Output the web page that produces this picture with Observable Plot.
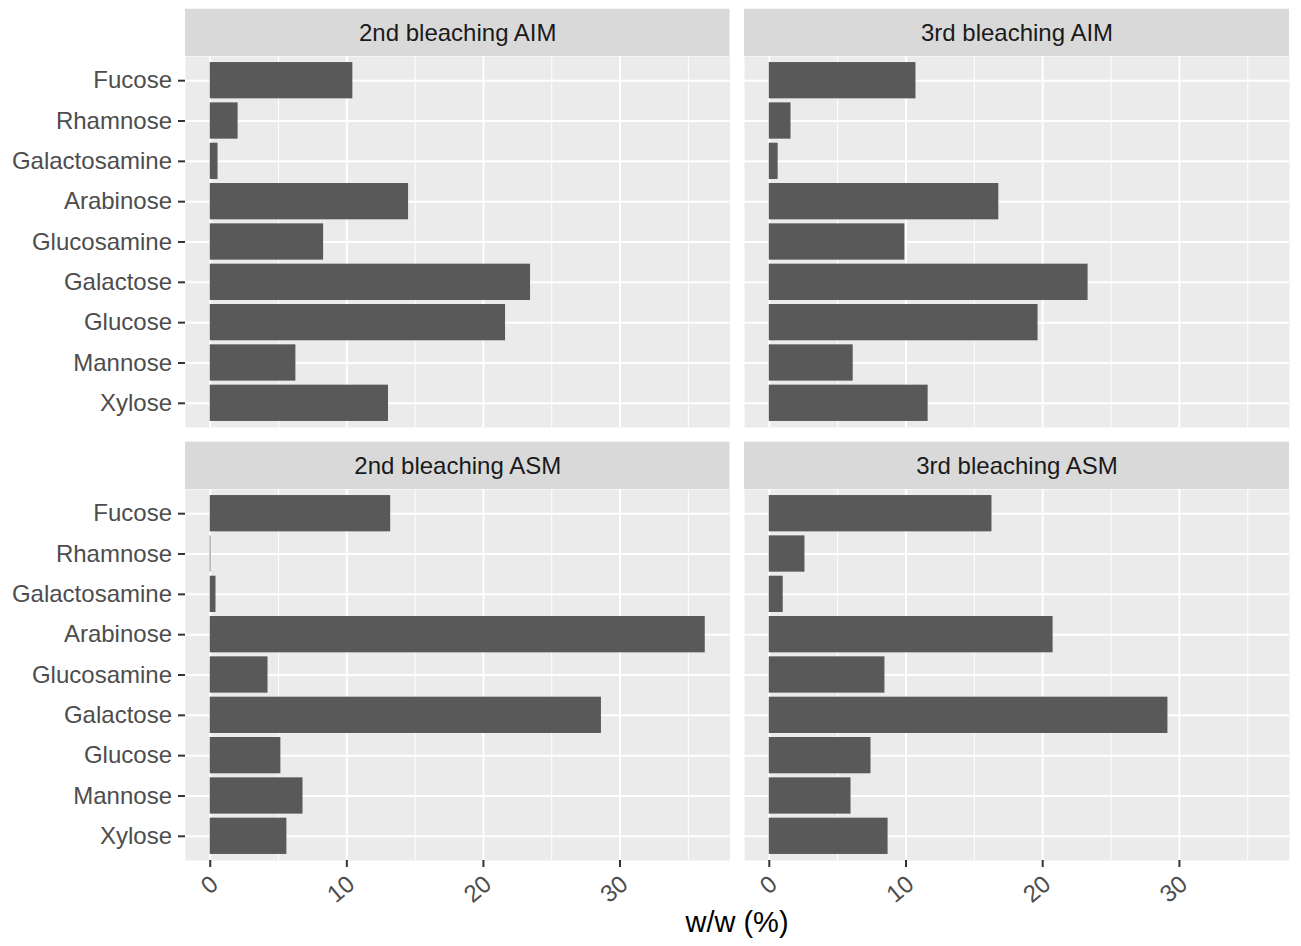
<!DOCTYPE html>
<html>
<head>
<meta charset="utf-8">
<script src="https://cdn.jsdelivr.net/npm/d3@7"></script>
<script src="https://cdn.jsdelivr.net/npm/@observablehq/plot@0.6"></script>
<style>
  html, body { margin: 0; padding: 0; background: #ffffff; }
  #chart { position: relative; width: 1301px; height: 946px; font-family: "Liberation Sans", Arial, Helvetica, sans-serif; }
  .panel { position: absolute; }
  #xtitle { position: absolute; left: 0; width: 1474px; top: 908px; text-align: center; font-size: 29px; line-height: 1; color: #000; }
</style>
</head>
<body>
<div id="chart"></div>
<script>
// ---- data ----
const sugars = ["Fucose", "Rhamnose", "Galactosamine", "Arabinose", "Glucosamine", "Galactose", "Glucose", "Mannose", "Xylose"];
const bleach2AIM = [10.44, 2.04, 0.57, 14.52, 8.30, 23.45, 21.62, 6.27, 13.05];
const bleach3AIM = [10.73, 1.59, 0.65, 16.79, 9.92, 23.32, 19.66, 6.14, 11.62];
const bleach2ASM = [13.21, 0.05, 0.42, 36.24, 4.23, 28.64, 5.17, 6.79, 5.61];
const bleach3ASM = [16.29, 2.61, 1.02, 20.76, 8.46, 29.16, 7.44, 5.98, 8.69];
const panelLabels = ["2nd bleaching AIM", "3rd bleaching AIM", "2nd bleaching ASM", "3rd bleaching ASM"];
const xTicks = [0, 10, 20, 30];
const xMinorTicks = [5, 15, 25, 35];
const xTitle = "w/w (%)";

// ---- shared x domain (ggplot-like 5% expansion) ----
const allVals = [...bleach2AIM, ...bleach3AIM, ...bleach2ASM, ...bleach3ASM];
const vmax = d3.max(allVals), vmin = Math.min(0, d3.min(allVals));
const pad = (vmax - vmin) * 0.05;
const xDomain = [vmin - pad, vmax + pad];

const FONT = '"Liberation Sans", Arial, Helvetica, sans-serif';
const STRIP_H = 47.3;

function makePanel(values, label, cfg) {
  const data = sugars.map((s, i) => ({sugar: s, value: values[i]}));
  const {width, height, mL, mR, mT, mB, showY, showX} = cfg;
  const stripMark = () => {
    const r = document.createElementNS("http://www.w3.org/2000/svg", "rect");
    r.setAttribute("x", mL);
    r.setAttribute("y", mT - STRIP_H);
    r.setAttribute("width", width - mL - mR);
    r.setAttribute("height", STRIP_H);
    r.setAttribute("fill", "#d9d9d9");
    return r;
  };
  const marks = [
    Plot.frame({fill: "#ebebeb", stroke: "none"}),
    Plot.gridX({ticks: xMinorTicks, stroke: "#ffffff", strokeOpacity: 1, strokeWidth: 1}),
    Plot.gridX({ticks: xTicks, stroke: "#ffffff", strokeOpacity: 1, strokeWidth: 2}),
    Plot.gridY({stroke: "#ffffff", strokeOpacity: 1, strokeWidth: 2}),
    Plot.barX(data, {x: "value", y: "sugar", fill: "#595959"}),
    stripMark,
    Plot.text([label], {frameAnchor: "top", dy: -STRIP_H / 2, lineAnchor: "middle", text: d => d, fontSize: 24, fill: "#1a1a1a"})
  ];
  if (showY) {
    marks.push(Plot.axisY({tickSize: 7, tickPadding: 6.5, stroke: "#333333", strokeWidth: 2, fill: "#4d4d4d", fontSize: 24, label: null}));
  }
  if (showX) {
    marks.push(Plot.axisX({ticks: xTicks, tickSize: 7, stroke: "#333333", strokeWidth: 2, fill: "none", label: null}));
    marks.push(Plot.text(xTicks, {x: d => d, frameAnchor: "bottom", dy: 13, dx: -1.5, rotate: -40, textAnchor: "end", lineAnchor: "top", text: d => String(d), fontSize: 24, fill: "#4d4d4d"}));
  }
  const svg = Plot.plot({
    width, height,
    marginLeft: mL, marginRight: mR, marginTop: mT, marginBottom: mB,
    x: {domain: xDomain, axis: null},
    y: {domain: sugars, paddingInner: 0.1, paddingOuter: 0.15, round: false, axis: null},
    style: {fontFamily: FONT, background: "transparent", overflow: "visible"},
    marks
  });
  const wrap = document.createElement("div");
  wrap.className = "panel";
  wrap.style.left = cfg.left + "px";
  wrap.style.top = cfg.top + "px";
  wrap.appendChild(svg);
  return wrap;
}

const chart = document.getElementById("chart");
const topCfg = {top: 0, height: 427, mT: 56, mB: 0};
const botCfg = {top: 428, height: 518, mT: 61, mB: 86};
const leftCfg = {left: 0, width: 730, mL: 185, mR: 0.5, showY: true};
const rightCfg = {left: 744, width: 557, mL: 0, mR: 12, showY: false};

chart.appendChild(makePanel(bleach2AIM, panelLabels[0], {...topCfg, ...leftCfg, showX: false}));
chart.appendChild(makePanel(bleach3AIM, panelLabels[1], {...topCfg, ...rightCfg, showX: false}));
chart.appendChild(makePanel(bleach2ASM, panelLabels[2], {...botCfg, ...leftCfg, showX: true}));
chart.appendChild(makePanel(bleach3ASM, panelLabels[3], {...botCfg, ...rightCfg, showX: true}));

const title = document.createElement("div");
title.id = "xtitle";
title.textContent = xTitle;
chart.appendChild(title);
</script>
</body>
</html>
